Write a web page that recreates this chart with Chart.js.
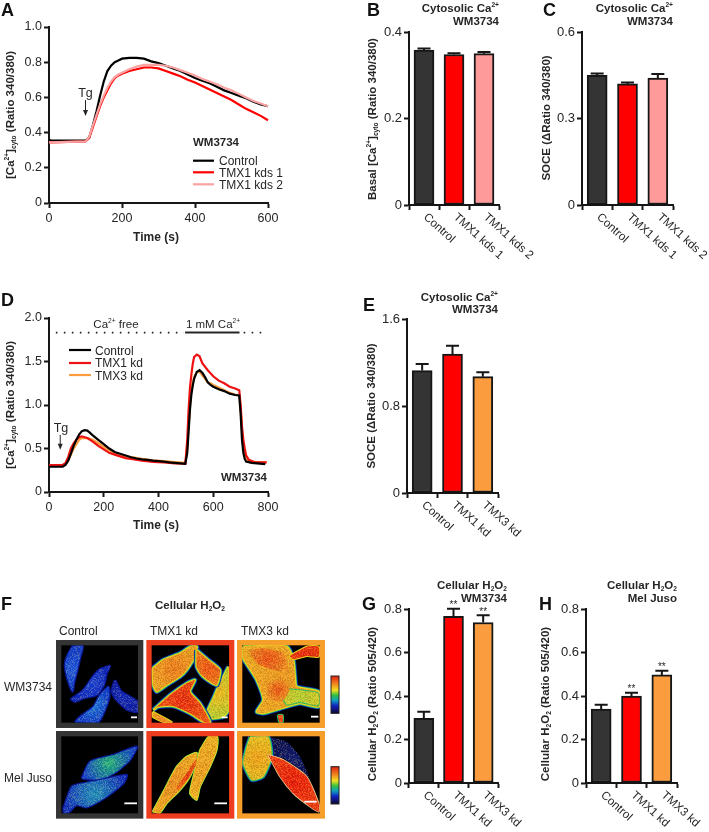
<!DOCTYPE html>
<html lang="en">
<head>
  <meta charset="UTF-8">
  <title>Cytosolic Ca2+ and cellular H2O2</title>
  <script src="https://cdn.jsdelivr.net/npm/chart.js"></script>
  <style>
    html, body { margin: 0; padding: 0; background: #fff; }
    #fig { position: relative; width: 709px; height: 832px; overflow: hidden; }
    canvas { position: absolute; }
  </style>
</head>
<body>
  <div id="fig"></div>
  <script>
    // panel A
    const aTime = [0,5,100,110,120,130,140,150,160,170,180,190,200,220,240,260,280,300,320,340,360,380,400,420,440,460,480,500,520,540,560,580,600];
    const aControl = [.36,.355,.355,.37,.44,.52,.61,.69,.75,.78,.80,.81,.82,.825,.825,.82,.805,.795,.78,.765,.75,.73,.71,.695,.68,.66,.64,.625,.61,.595,.575,.56,.55];
    const aKds1 = [.345,.345,.35,.37,.43,.49,.55,.60,.64,.68,.71,.725,.735,.75,.76,.77,.77,.765,.75,.735,.72,.70,.685,.665,.645,.625,.605,.585,.56,.535,.515,.495,.47];
    const aKds2 = [.345,.345,.35,.375,.44,.50,.56,.61,.655,.69,.715,.73,.74,.76,.775,.785,.785,.785,.78,.77,.755,.74,.725,.705,.69,.675,.655,.64,.62,.60,.58,.565,.55];

    // panel D
    const dTimeControl = [0,50,60,70,80,90,100,110,120,130,140,150,160,180,200,220,240,260,280,300,320,340,360,380,400,420,440,460,480,498,505,510,515,520,525,530,540,550,560,570,580,590,600,620,640,660,680,695,700,705,710,715,720,740,760,790];
    const dControl = [.29,.29,.31,.36,.44,.53,.60,.66,.70,.71,.705,.68,.65,.60,.55,.50,.46,.44,.42,.40,.385,.375,.37,.36,.355,.35,.34,.335,.33,.325,.45,.7,.95,1.12,1.22,1.30,1.38,1.40,1.37,1.32,1.26,1.23,1.21,1.18,1.16,1.13,1.115,1.11,.9,.6,.45,.38,.35,.335,.33,.32];
    const dTimeTmx1 = [0,50,60,70,80,90,100,110,120,130,140,160,180,200,220,240,260,280,300,340,380,420,460,498,505,510,515,520,525,530,540,550,560,580,600,620,640,660,680,695,700,705,710,715,720,730,750,795];
    const dTmx1 = [.31,.31,.33,.40,.50,.56,.60,.63,.64,.63,.62,.58,.53,.49,.45,.43,.41,.39,.38,.36,.345,.34,.33,.325,.6,.95,1.2,1.35,1.47,1.55,1.58,1.56,1.48,1.40,1.33,1.28,1.25,1.21,1.19,1.17,1.0,.75,.6,.5,.42,.37,.345,.34];
    const dTimeTmx3 = [0,50,60,70,80,90,100,110,120,130,140,160,180,200,220,240,260,280,300,340,380,420,460,498,505,510,515,520,525,530,540,550,560,570,580,590,600,620,640,660,680,695,700,705,710,715,725,740,770,795];
    const dTmx3 = [.30,.30,.32,.36,.43,.50,.55,.60,.62,.62,.62,.60,.56,.52,.48,.45,.43,.41,.40,.38,.365,.355,.345,.335,.5,.75,1.0,1.15,1.25,1.32,1.38,1.38,1.34,1.30,1.26,1.25,1.23,1.2,1.17,1.14,1.12,1.11,.95,.7,.52,.45,.37,.35,.34,.34];
    const dCaLevel = 1.832;
    const dDotsLeft = [25, 493];
    const dSolid = [497, 696];
    const dDotsRight = [711, 797];

    // bars
    const kdsLabels = ['Control', 'TMX1 kds 1', 'TMX1 kds 2'];
    const kdLabels = ['Control', 'TMX1 kd', 'TMX3 kd'];
    const bValues = [.358, .348, .35];
    const bErrors = [.004, .003, .004];
    const cValues = [.45, .42, .44];
    const cErrors = [.006, .005, .014];
    const eValues = [1.126, 1.277, 1.07];
    const eErrors = [.06, .077, .04];
    const gValues = [.297, .766, .738];
    const gErrors = [.031, .035, .033];
    const gStars = ['', '**', '**'];
    const hValues = [.34, .40, .497];
    const hErrors = [.02, .015, .019];
    const hStars = ['', '**', '**'];

    const BLACK = '#161616';
    const INK = '#262626';
    const DARK = '#343434';
    const RED = '#ff0000';
    const PINK = '#ff9a9a';
    const ORANGE = '#fb9d3e';
    const FONT = '"Liberation Sans", Arial, sans-serif';

    Chart.defaults.font.family = FONT;
    Chart.defaults.color = INK;
    Chart.defaults.animation = false;

    const fig = document.getElementById('fig');

    function addCanvas(box) {
      const c = document.createElement('canvas');
      c.width = box.r - box.l;
      c.height = box.b - box.t;
      c.style.left = box.l + 'px';
      c.style.top = box.t + 'px';
      fig.appendChild(c);
      return c;
    }

    // text with ^sup^ and _sub_ parts
    function drawRich(ctx, str, size, bold, align) {
      const parts = str.split(/(\^[^^]*\^|_[^_]*_)/).filter(p => p);
      const weight = bold ? 'bold ' : '';
      const segs = parts.map(p => {
        const small = p[0] === '^' || p[0] === '_';
        const s = small ? size * 0.58 : size;
        ctx.font = weight + s + 'px ' + FONT;
        const text = small ? p.slice(1, -1) : p;
        return { text, font: ctx.font, dy: p[0] === '^' ? -size * 0.42 : p[0] === '_' ? size * 0.2 : 0, w: ctx.measureText(text).width };
      });
      const total = segs.reduce((a, s) => a + s.w, 0);
      let x = align === 'center' ? -total / 2 : align === 'right' ? -total : 0;
      ctx.textAlign = 'left';
      ctx.textBaseline = 'alphabetic';
      segs.forEach(s => {
        ctx.font = s.font;
        ctx.fillText(s.text, x, s.dy);
        x += s.w;
      });
    }

    // page-positioned labels and legend keys for one panel
    function notesPlugin(box, texts, keys) {
      return {
        id: 'notes',
        afterDraw(chart) {
          const ctx = chart.ctx;
          (keys || []).forEach(k => {
            ctx.save();
            ctx.strokeStyle = k.color;
            ctx.lineWidth = 2.2;
            ctx.beginPath();
            ctx.moveTo(k.x1 - box.l, k.y - box.t);
            ctx.lineTo(k.x2 - box.l, k.y - box.t);
            ctx.stroke();
            ctx.restore();
          });
          texts.forEach(t => {
            ctx.save();
            ctx.fillStyle = t.color || INK;
            ctx.translate(t.x - box.l, t.y - box.t);
            if (t.rot) ctx.rotate(t.rot * Math.PI / 180);
            drawRich(ctx, t.s, t.size || 12, t.bold, t.align);
            ctx.restore();
          });
        }
      };
    }

    const tg = (x, from, to) => ({
      id: 'tgArrow',
      afterDatasetsDraw(chart) {
        const ctx = chart.ctx;
        const px = chart.scales.x.getPixelForValue(x);
        const y1 = chart.scales.y.getPixelForValue(from);
        const y2 = chart.scales.y.getPixelForValue(to);
        ctx.save();
        ctx.strokeStyle = ctx.fillStyle = INK;
        ctx.lineWidth = 1;
        ctx.beginPath();
        ctx.moveTo(px, y1);
        ctx.lineTo(px, y2 - 3);
        ctx.stroke();
        ctx.beginPath();
        ctx.moveTo(px, y2);
        ctx.lineTo(px - 2.5, y2 - 6);
        ctx.lineTo(px + 2.5, y2 - 6);
        ctx.fill();
        ctx.restore();
      }
    });

    function pairs(xs, ys) {
      return xs.map((x, i) => ({ x, y: ys[i] }));
    }

    function axisOptions(box, plot) {
      return {
        x: {
          border: { display: true, width: 2, color: BLACK },
          grid: { display: true, drawOnChartArea: false, drawTicks: true, tickLength: 5, tickWidth: 2, tickColor: BLACK },
          afterFit(s) { s.height = box.b - plot.b; }
        },
        y: {
          border: { display: true, width: 2, color: BLACK },
          grid: { display: true, drawOnChartArea: false, drawTicks: true, tickLength: 5, tickWidth: 2, tickColor: BLACK },
          afterFit(s) { s.width = plot.l - box.l; }
        }
      };
    }

    const oneDecimal = v => v === 0 ? '0' : v.toFixed(1);

    function lineChart(box, plot, cfg) {
      const scales = axisOptions(box, plot);
      Object.assign(scales.x, {
        type: 'linear', min: 0, max: cfg.xMax,
        ticks: { stepSize: cfg.xStep, padding: 3, maxRotation: 0, font: { size: 12.5 }, color: INK }
      });
      Object.assign(scales.y, {
        min: 0, max: cfg.yMax,
        ticks: { stepSize: cfg.yStep, padding: 2, font: { size: 12.5 }, color: INK, callback: oneDecimal }
      });
      return new Chart(addCanvas(box), {
        type: 'line',
        data: { datasets: cfg.datasets },
        options: {
          responsive: false,
          layout: { autoPadding: false, padding: { left: 0, bottom: 0, top: plot.t - box.t, right: box.r - plot.r } },
          elements: { point: { radius: 0 }, line: { tension: 0 } },
          scales,
          plugins: { legend: { display: false }, tooltip: { enabled: false } }
        },
        plugins: cfg.plugins
      });
    }

    function series(data, color, width) {
      return { data, borderColor: color, borderWidth: width || 2.2, clip: false };
    }

    // error caps, stars and the slanted category labels
    const barExtras = (errors, stars) => ({
      id: 'barExtras',
      afterDatasetsDraw(chart) {
        const ctx = chart.ctx;
        const y = chart.scales.y;
        const x = chart.scales.x;
        const ds = chart.data.datasets[0];
        chart.getDatasetMeta(0).data.forEach((bar, i) => {
          const top = y.getPixelForValue(ds.data[i] + errors[i]);
          ctx.save();
          ctx.strokeStyle = BLACK;
          ctx.lineWidth = 2;
          ctx.beginPath();
          ctx.moveTo(bar.x, bar.y);
          ctx.lineTo(bar.x, top);
          ctx.moveTo(bar.x - 6.5, top);
          ctx.lineTo(bar.x + 6.5, top);
          ctx.stroke();
          if (stars && stars[i]) {
            ctx.fillStyle = INK;
            ctx.font = '10px ' + FONT;
            ctx.textAlign = 'center';
            ctx.textBaseline = 'alphabetic';
            ctx.fillText(stars[i], bar.x, top - 0.5);
          }
          ctx.restore();
        });
        chart.data.labels.forEach((label, i) => {
          ctx.save();
          ctx.fillStyle = INK;
          ctx.font = '11.7px ' + FONT;
          ctx.textAlign = 'left';
          ctx.textBaseline = 'alphabetic';
          ctx.translate(x.getPixelForTick(i) - 1, y.bottom + 13);
          ctx.rotate(42 * Math.PI / 180);
          ctx.fillText(label, 0, 0);
          ctx.restore();
        });
      }
    });

    function barChart(box, plot, cfg) {
      const scales = axisOptions(box, plot);
      scales.x.ticks = { display: false };
      Object.assign(scales.y, {
        min: 0, max: cfg.yMax,
        ticks: { stepSize: cfg.yStep, padding: 2, font: { size: 13 }, color: INK, callback: oneDecimal }
      });
      return new Chart(addCanvas(box), {
        type: 'bar',
        data: {
          labels: cfg.labels,
          datasets: [{
            data: cfg.values,
            backgroundColor: cfg.colors,
            borderColor: BLACK,
            borderWidth: 2,
            borderSkipped: false,
            barThickness: 20
          }]
        },
        options: {
          responsive: false,
          layout: { autoPadding: false, padding: { left: 0, bottom: 0, top: plot.t - box.t, right: box.r - plot.r } },
          scales,
          plugins: { legend: { display: false }, tooltip: { enabled: false } }
        },
        plugins: [barExtras(cfg.errors, cfg.stars), notesPlugin(box, cfg.texts)]
      });
    }

    const letter = (s, x, y) => ({ s, x, y, size: 18, bold: true, color: '#111' });
    const yTitle = (s, x, y) => ({ s, x, y, rot: -90, align: 'center', bold: true, size: 11.5 });
    const title = (s, x, y) => ({ s, x, y, align: 'right', bold: true, size: 11.5 });
    const CYTO = '[Ca^2+^]_cyto_ (Ratio 340/380)';

    // A
    const boxA = { l: 0, t: 0, r: 345, b: 290 };
    lineChart(boxA, { l: 49, t: 27, r: 268, b: 203 }, {
      xMax: 600, xStep: 200, yMax: 1, yStep: .2,
      datasets: [series(pairs(aTime, aKds2), '#f9a3a3'), series(pairs(aTime, aKds1), RED), series(pairs(aTime, aControl), '#000')],
      plugins: [tg(100, .585, .495), notesPlugin(boxA, [
        letter('A', 1, 16),
        yTitle(CYTO, 14, 115),
        { s: 'Time (s)', x: 156, y: 241, align: 'center', bold: true, size: 12 },
        { s: 'Tg', x: 85.5, y: 97, align: 'center', size: 12.5 },
        { s: 'WM3734', x: 193, y: 146, bold: true, size: 11.5 },
        { s: 'Control', x: 219, y: 165, size: 12 },
        { s: 'TMX1 kds 1', x: 219, y: 177, size: 12 },
        { s: 'TMX1 kds 2', x: 219, y: 189, size: 12 }
      ], [
        { x1: 193, x2: 214, y: 160.7, color: '#000' },
        { x1: 193, x2: 214, y: 172.3, color: RED },
        { x1: 193, x2: 214, y: 184.3, color: '#f9a3a3' }
      ])]
    });

    // B
    barChart({ l: 345, t: 0, r: 540, b: 290 }, { l: 409, t: 32, r: 499, b: 205 }, {
      yMax: .4, yStep: .2, labels: kdsLabels, values: bValues, errors: bErrors, colors: [DARK, RED, PINK],
      texts: [
        letter('B', 367, 16),
        title('Cytosolic Ca^2+^', 499, 12),
        title('WM3734', 499, 25),
        yTitle('Basal ' + CYTO, 376, 119)
      ]
    });

    // C
    barChart({ l: 520, t: 0, r: 709, b: 290 }, { l: 582, t: 32, r: 673, b: 205 }, {
      yMax: .6, yStep: .3, labels: kdsLabels, values: cValues, errors: cErrors, colors: [DARK, RED, PINK],
      texts: [
        letter('C', 543, 16),
        title('Cytosolic Ca^2+^', 673, 12),
        title('WM3734', 673, 25),
        yTitle('SOCE (\u0394Ratio 340/380)', 550, 118)
      ]
    });

    // D
    const boxD = { l: 0, t: 290, r: 345, b: 565 };
    const dotted = xs => Object.assign(series(pairs(xs, [dCaLevel, dCaLevel]), INK, 1.6), { borderDash: [1.6, 6.4] });
    lineChart(boxD, { l: 49, t: 318, r: 268, b: 492 }, {
      xMax: 800, xStep: 200, yMax: 2, yStep: .5,
      datasets: [
        series(pairs(dTimeControl, dControl), '#000'),
        series(pairs(dTimeTmx1, dTmx1), '#ee1111'),
        series(pairs(dTimeTmx3, dTmx3), ORANGE),
        dotted(dDotsLeft),
        series(pairs(dSolid, [dCaLevel, dCaLevel]), INK, 2),
        dotted(dDotsRight)
      ],
      plugins: [tg(41, .656, .485), notesPlugin(boxD, [
        letter('D', 1, 306),
        yTitle(CYTO, 14, 405),
        { s: 'Time (s)', x: 156, y: 529, align: 'center', bold: true, size: 12 },
        { s: 'Tg', x: 61, y: 432, align: 'center', size: 12.5 },
        { s: 'WM3734', x: 267, y: 481, align: 'right', bold: true, size: 11.5 },
        { s: 'Ca^2+^ free', x: 116, y: 328, align: 'center', size: 11.5 },
        { s: '1 mM Ca^2+^', x: 213, y: 328, align: 'center', size: 11.5 },
        { s: 'Control', x: 95, y: 354.5, size: 12 },
        { s: 'TMX1 kd', x: 95, y: 367, size: 12 },
        { s: 'TMX3 kd', x: 95, y: 380, size: 12 }
      ], [
        { x1: 69, x2: 91, y: 350, color: '#000' },
        { x1: 69, x2: 91, y: 363, color: '#ee1111' },
        { x1: 69, x2: 91, y: 375, color: ORANGE }
      ])]
    });

    // E
    barChart({ l: 345, t: 290, r: 709, b: 565 }, { l: 407, t: 319, r: 498, b: 493 }, {
      yMax: 1.6, yStep: .8, labels: kdLabels, values: eValues, errors: eErrors, colors: [DARK, RED, ORANGE],
      texts: [
        letter('E', 363, 311),
        title('Cytosolic Ca^2+^', 498, 301),
        title('WM3734', 498, 313),
        yTitle('SOCE (\u0394Ratio 340/380)', 375, 406)
      ]
    });

    // G
    barChart({ l: 355, t: 570, r: 535, b: 832 }, { l: 409, t: 609, r: 498, b: 783 }, {
      yMax: .8, yStep: .2, labels: kdLabels, values: gValues, errors: gErrors, stars: gStars, colors: [DARK, RED, ORANGE],
      texts: [
        letter('G', 362, 610),
        title('Cellular H_2_O_2_', 507, 589),
        title('WM3734', 507, 602),
        yTitle('Cellular H_2_O_2_ (Ratio 505/420)', 376, 704)
      ]
    });

    // H
    barChart({ l: 535, t: 570, r: 709, b: 832 }, { l: 586, t: 609, r: 677, b: 783 }, {
      yMax: .8, yStep: .2, labels: kdLabels, values: hValues, errors: hErrors, stars: hStars, colors: [DARK, RED, ORANGE],
      texts: [
        letter('H', 539, 610),
        title('Cellular H_2_O_2_', 677, 589),
        title('Mel Juso', 677, 602),
        yTitle('Cellular H_2_O_2_ (Ratio 505/420)', 549, 704)
      ]
    });

    // F: the micrographs, outlines (crop units, 3 per pixel)
    const ctrlWm1 = [[218,228],[248,228],[240,265],[232,300],[222,340],[218,365],[208,345],[198,310],[195,280],[205,250]];
    const ctrlWm2 = [[212,388],[250,360],[280,318],[300,298],[330,288],[320,310],[312,345],[290,375],[250,385],[225,395]];
    const ctrlWm3 = [[225,456],[240,440],[280,410],[300,375],[325,350],[328,380],[315,420],[295,456]];
    const ctrlWm4 = [[345,330],[365,365],[412,395],[412,425],[380,418],[345,385],[335,362]];
    const tmx1Wm1 = [[458,295],[490,270],[540,250],[572,230],[590,230],[590,250],[560,300],[540,320],[500,345],[470,365],[460,345]];
    const tmx1Wm2 = [[590,240],[625,270],[660,300],[650,345],[630,335],[605,315],[590,290]];
    const tmx1Wm3 = [[460,420],[510,375],[560,340],[585,330],[570,365],[600,400],[630,456],[612,456],[570,430],[520,408],[475,410]];
    const tmx1Wm4 = [[685,290],[670,320],[655,350],[640,385],[620,430],[630,445],[670,440],[685,420]];
    const tmx1Wm5 = [[458,425],[515,456],[490,456],[458,440]];
    const tmx3Wm1 = [[730,230],[860,230],[880,270],[885,320],[890,350],[956,365],[956,410],[900,400],[860,410],[790,430],[770,425],[790,390],[770,330],[745,290],[730,265]];
    const tmx3Wm2 = [[868,258],[920,230],[956,230],[956,260],[920,258],[880,268]];
    const tmx3Wm3 = [[833,435],[848,435],[848,456],[838,456]];
    const tmx3WmTail = [[868,358],[954,370],[954,406],[900,396],[862,404],[850,385]];
    const tmx3WmPatch1 = [[745,240],[790,235],[850,250],[862,300],[820,300],[770,280]];
    const tmx3WmPatch2 = [[800,340],[850,325],[868,360],[845,395],[805,385]];
    const ctrlMj1 = [[245,625],[270,575],[340,555],[410,530],[390,570],[350,605],[300,630]];
    const ctrlMj2 = [[190,715],[215,650],[250,640],[300,630],[380,615],[370,640],[320,680],[260,712],[230,705],[205,728],[192,728]];
    const tmx1Mj1 = [[458,725],[490,665],[530,590],[560,560],[590,548],[590,570],[570,620],[540,660],[500,700],[480,728]];
    const tmx1Mj2 = [[600,540],[625,501],[652,501],[650,540],[630,590],[600,650],[590,690],[570,670],[580,620]];
    const tmx1Mj3 = [[528,655],[560,610],[590,565],[588,585],[565,625],[535,660]];
    const tmx3Mj1 = [[810,501],[860,515],[900,560],[935,640],[920,615],[850,565],[815,555]];
    const tmx3Mj2 = [[750,501],[805,501],[815,560],[790,620],[755,630],[730,580],[740,530]];
    const tmx3Mj3 = [[805,555],[850,570],[920,620],[956,700],[956,725],[930,710],[880,670],[840,620]];

    // scale bars and frames (crop units)
    const scaleBars = [[393,411,442],[665,683,442],[933,955,440],[373,411,700],[643,681,700],[913,950,695]];
    const frameXs = [[176,422,'#343434'],[447,695,'#ee3d1e'],[719,967,'#f59f2a']];
    const frameYs = [[218,466],[491,738]];

    const RIM_BLUE = '#0a1fb0', RIM_GREEN = '#28c060', RIM_YELLOW = '#e8d820';
    const hotRim = [[RIM_BLUE, 5], [RIM_GREEN, 3.4], [RIM_YELLOW, 2]];
    const blueRim = [['#0a1690', 2.5]];

    const cellList = [
      { pts: ctrlWm1, inner: '#1c55e0', outer: '#1038c8', rim: blueRim },
      { pts: ctrlWm2, inner: '#1840d8', outer: '#1028c0', rim: blueRim },
      { pts: ctrlWm4, inner: '#1228c0', outer: '#1020a8', rim: blueRim },
      { pts: ctrlWm3, inner: '#1a78e0', outer: '#1240d0', rim: blueRim },
      { pts: tmx1Wm4, inner: '#f0b81c', outer: '#b8d030', rim: hotRim },
      { pts: tmx1Wm1, inner: '#f07c1c', outer: '#f0a020', rim: hotRim },
      { pts: tmx1Wm2, inner: '#f05412', outer: '#f07818', rim: hotRim },
      { pts: tmx1Wm3, inner: '#ee2c0e', outer: '#f05410', rim: hotRim },
      { pts: tmx1Wm5, inner: '#f07c1c', outer: '#f0a820', rim: [[RIM_YELLOW, 2]] },
      { pts: tmx3Wm1, inner: '#f09a20', outer: '#f0a820', rim: hotRim },
      { pts: tmx3WmTail, inner: '#b8d030', outer: '#d0c828', rim: [[RIM_GREEN, 2]] },
      { pts: tmx3WmPatch1, inner: '#ee5014', outer: '#f08820', rim: [] },
      { pts: tmx3WmPatch2, inner: '#ee5814', outer: '#f09020', rim: [] },
      { pts: tmx3Wm2, inner: '#ee2a0c', outer: '#ee3a0c', rim: [[RIM_YELLOW, 2]] },
      { pts: tmx3Wm3, inner: '#ee3a14', outer: '#ee4a14', rim: [[RIM_GREEN, 2]] },
      { pts: ctrlMj1, inner: '#20b080', outer: '#1440d0', rim: blueRim },
      { pts: ctrlMj2, inner: '#2090c0', outer: '#1230c0', rim: blueRim },
      { pts: tmx1Mj1, inner: '#f09020', outer: '#f0a820', rim: [[RIM_GREEN, 2], [RIM_YELLOW, 1.4]] },
      { pts: tmx1Mj2, inner: '#f0a020', outer: '#f0b020', rim: [[RIM_GREEN, 2], [RIM_YELLOW, 1.4]] },
      { pts: tmx1Mj3, inner: '#ee3a10', outer: '#f06414', rim: [] },
      { pts: tmx3Mj1, inner: '#101a70', outer: '#0c1050', rim: [] },
      { pts: tmx3Mj2, inner: '#f0a018', outer: '#e8c020', rim: [[RIM_BLUE, 4], [RIM_GREEN, 2.6]] },
      { pts: tmx3Mj3, inner: '#ee1c08', outer: '#f03810', rim: [['#f0c890', 1.6]] }
    ];

    const boxF = { l: 0, t: 570, r: 370, b: 832 };
    const canvasF = addCanvas(boxF);
    const ctxF = canvasF.getContext('2d');

    function cellFill(c) {
      const xs = c.pts.map(p => p[0] / 3);
      const ys = c.pts.map(p => p[1] / 3);
      const minX = Math.min(...xs), maxX = Math.max(...xs), minY = Math.min(...ys), maxY = Math.max(...ys);
      const g = ctxF.createRadialGradient((minX + maxX) / 2, (minY + maxY) / 2, 1,
        (minX + maxX) / 2, (minY + maxY) / 2, Math.max(maxX - minX, maxY - minY) / 2);
      g.addColorStop(0, c.inner);
      g.addColorStop(1, c.outer);
      return g;
    }

    // fixed speckle tile for the cell texture
    function grainPattern() {
      const tile = document.createElement('canvas');
      tile.width = tile.height = 61;
      const t = tile.getContext('2d');
      for (let y = 0; y < 61; y++) {
        for (let x = 0; x < 61; x++) {
          const h = Math.sin(x * 12.9898 + y * 78.233) * 43758.5453;
          const v = h - Math.floor(h);
          t.fillStyle = v > .5 ? 'rgba(255,240,120,' + (v - .5) * .5 + ')' : 'rgba(0,0,40,' + (.5 - v) * .3 + ')';
          t.fillRect(x, y, 1, 1);
        }
      }
      return ctxF.createPattern(tile, 'repeat');
    }
    const grain = grainPattern();

    const cellSets = [];
    cellList.forEach(c => {
      const data = c.pts.concat([c.pts[0]]).map(p => ({ x: p[0], y: p[1] }));
      c.rim.forEach(r => cellSets.push({ data, showLine: true, fill: false, borderColor: r[0], borderWidth: r[1], pointRadius: 0, tension: .2 }));
      cellSets.push({ data, showLine: true, fill: 'shape', backgroundColor: cellFill(c), borderColor: 'rgba(0,0,0,0)', borderWidth: 0, pointRadius: 0, tension: .2 });
      cellSets.push({ data, showLine: true, fill: 'shape', backgroundColor: grain, borderColor: 'rgba(0,0,0,0)', borderWidth: 0, pointRadius: 0, tension: .2 });
    });
    scaleBars.forEach(b => {
      cellSets.push({ data: [{ x: b[0], y: b[2] }, { x: b[1], y: b[2] }], showLine: true, borderColor: '#fff', borderWidth: 1.8, pointRadius: 0 });
    });
    // later sets go on top
    cellSets.forEach((d, i) => { d.order = -i; });

    const micrographs = {
      id: 'micrographs',
      beforeDatasetsDraw(chart) {
        const ctx = chart.ctx, sx = chart.scales.x, sy = chart.scales.y;
        ctx.save();
        frameYs.forEach(fy => frameXs.forEach(fx => {
          const x = sx.getPixelForValue(fx[0]), y = sy.getPixelForValue(fy[0]);
          ctx.fillStyle = '#000';
          ctx.fillRect(x, y, sx.getPixelForValue(fx[1]) - x, sy.getPixelForValue(fy[1]) - y);
        }));
        ctx.restore();
        ctx.save();
        ctx.filter = 'blur(0.6px)';
      },
      afterDatasetsDraw(chart) {
        const ctx = chart.ctx, sx = chart.scales.x, sy = chart.scales.y;
        ctx.restore();
        ctx.save();
        ctx.lineWidth = 5.3;
        frameYs.forEach(fy => frameXs.forEach(fx => {
          const x = sx.getPixelForValue(fx[0]), y = sy.getPixelForValue(fy[0]);
          ctx.strokeStyle = fx[2];
          ctx.strokeRect(x, y, sx.getPixelForValue(fx[1]) - x, sy.getPixelForValue(fy[1]) - y);
        }));
        // colour keys
        [[318, 430], [590, 702]].forEach(k => {
          const x1 = sx.getPixelForValue(993), x2 = sx.getPixelForValue(1017);
          const y1 = sy.getPixelForValue(k[0]), y2 = sy.getPixelForValue(k[1]);
          const g = ctx.createLinearGradient(0, y1, 0, y2);
          [[0, '#e02010'], [.2, '#f08020'], [.38, '#f0e020'], [.52, '#30c040'], [.65, '#10a0c0'], [.8, '#1020c0'], [1, '#100830']]
            .forEach(s => g.addColorStop(s[0], s[1]));
          ctx.fillStyle = g;
          ctx.fillRect(x1, y1, x2 - x1, y2 - y1);
          ctx.strokeStyle = '#222';
          ctx.lineWidth = 1;
          ctx.strokeRect(x1, y1, x2 - x1, y2 - y1);
        });
        ctx.restore();
      }
    };

    new Chart(canvasF, {
      type: 'scatter',
      data: { datasets: cellSets },
      options: {
        responsive: false,
        layout: { autoPadding: false, padding: 0 },
        scales: {
          x: { display: false, min: 0, max: 1110 },
          y: { display: false, min: 0, max: 786, reverse: true }
        },
        plugins: { legend: { display: false }, tooltip: { enabled: false } }
      },
      plugins: [micrographs, notesPlugin(boxF, [
        letter('F', 1, 610),
        { s: 'Cellular H_2_O_2_', x: 190, y: 609, align: 'center', bold: true, size: 11.5 },
        { s: 'Control', x: 59, y: 635, size: 12 },
        { s: 'TMX1 kd', x: 150, y: 635, size: 12 },
        { s: 'TMX3 kd', x: 241, y: 635, size: 12 },
        { s: 'WM3734', x: 4, y: 691, size: 12 },
        { s: 'Mel Juso', x: 4, y: 782, size: 12 }
      ])]
    });
  </script>
</body>
</html>
